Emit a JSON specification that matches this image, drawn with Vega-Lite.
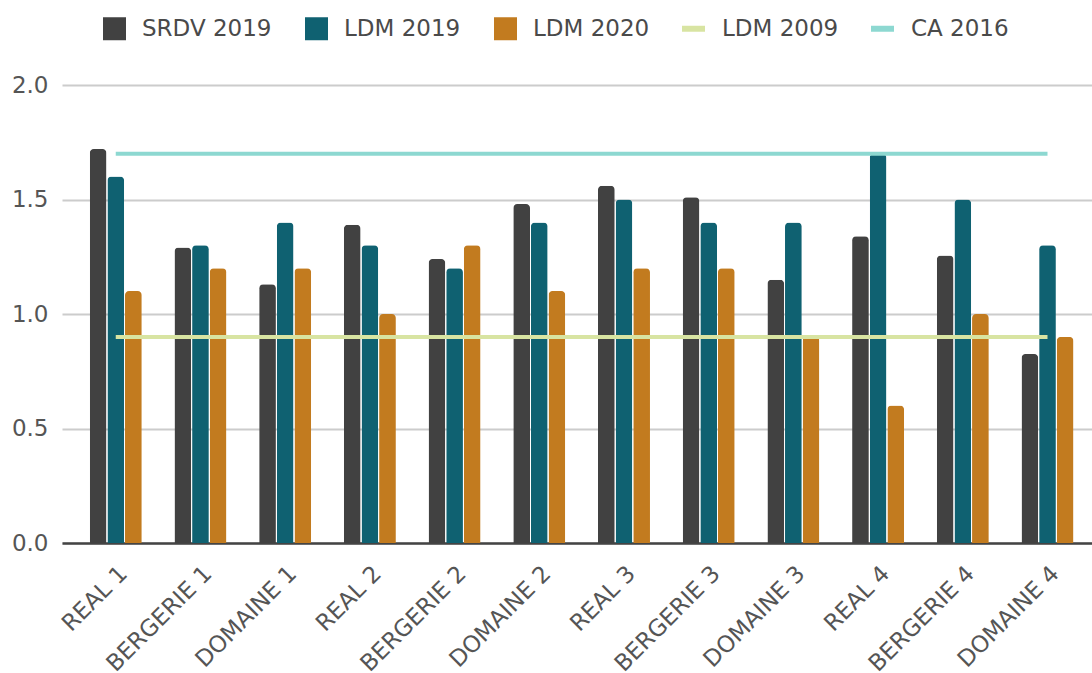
{
  "$schema": "https://vega.github.io/schema/vega-lite/v6.json",
  "autosize": "none",
  "width": 1030,
  "height": 458,
  "padding": {"left": 62, "top": 85, "right": 0, "bottom": 130},
  "background": "white",
  "config": {
    "font": "DejaVu Sans",
    "view": {"stroke": null}
  },
  "data": {
    "values": [
      {"cat": "REAL 1", "series": "SRDV 2019", "value": 1.72},
      {"cat": "REAL 1", "series": "LDM 2019", "value": 1.6},
      {"cat": "REAL 1", "series": "LDM 2020", "value": 1.1},
      {"cat": "BERGERIE 1", "series": "SRDV 2019", "value": 1.29},
      {"cat": "BERGERIE 1", "series": "LDM 2019", "value": 1.3},
      {"cat": "BERGERIE 1", "series": "LDM 2020", "value": 1.2},
      {"cat": "DOMAINE 1", "series": "SRDV 2019", "value": 1.13},
      {"cat": "DOMAINE 1", "series": "LDM 2019", "value": 1.4},
      {"cat": "DOMAINE 1", "series": "LDM 2020", "value": 1.2},
      {"cat": "REAL 2", "series": "SRDV 2019", "value": 1.39},
      {"cat": "REAL 2", "series": "LDM 2019", "value": 1.3},
      {"cat": "REAL 2", "series": "LDM 2020", "value": 1.0},
      {"cat": "BERGERIE 2", "series": "SRDV 2019", "value": 1.24},
      {"cat": "BERGERIE 2", "series": "LDM 2019", "value": 1.2},
      {"cat": "BERGERIE 2", "series": "LDM 2020", "value": 1.3},
      {"cat": "DOMAINE 2", "series": "SRDV 2019", "value": 1.48},
      {"cat": "DOMAINE 2", "series": "LDM 2019", "value": 1.4},
      {"cat": "DOMAINE 2", "series": "LDM 2020", "value": 1.1},
      {"cat": "REAL 3", "series": "SRDV 2019", "value": 1.56},
      {"cat": "REAL 3", "series": "LDM 2019", "value": 1.5},
      {"cat": "REAL 3", "series": "LDM 2020", "value": 1.2},
      {"cat": "BERGERIE 3", "series": "SRDV 2019", "value": 1.51},
      {"cat": "BERGERIE 3", "series": "LDM 2019", "value": 1.4},
      {"cat": "BERGERIE 3", "series": "LDM 2020", "value": 1.2},
      {"cat": "DOMAINE 3", "series": "SRDV 2019", "value": 1.15},
      {"cat": "DOMAINE 3", "series": "LDM 2019", "value": 1.4},
      {"cat": "DOMAINE 3", "series": "LDM 2020", "value": 0.9},
      {"cat": "REAL 4", "series": "SRDV 2019", "value": 1.34},
      {"cat": "REAL 4", "series": "LDM 2019", "value": 1.7},
      {"cat": "REAL 4", "series": "LDM 2020", "value": 0.6},
      {"cat": "BERGERIE 4", "series": "SRDV 2019", "value": 1.255},
      {"cat": "BERGERIE 4", "series": "LDM 2019", "value": 1.5},
      {"cat": "BERGERIE 4", "series": "LDM 2020", "value": 1.0},
      {"cat": "DOMAINE 4", "series": "SRDV 2019", "value": 0.825},
      {"cat": "DOMAINE 4", "series": "LDM 2019", "value": 1.3},
      {"cat": "DOMAINE 4", "series": "LDM 2020", "value": 0.9},
      {"cat": "REAL 1", "series": "LDM 2009", "value": 0.9},
      {"cat": "BERGERIE 1", "series": "LDM 2009", "value": 0.9},
      {"cat": "DOMAINE 1", "series": "LDM 2009", "value": 0.9},
      {"cat": "REAL 2", "series": "LDM 2009", "value": 0.9},
      {"cat": "BERGERIE 2", "series": "LDM 2009", "value": 0.9},
      {"cat": "DOMAINE 2", "series": "LDM 2009", "value": 0.9},
      {"cat": "REAL 3", "series": "LDM 2009", "value": 0.9},
      {"cat": "BERGERIE 3", "series": "LDM 2009", "value": 0.9},
      {"cat": "DOMAINE 3", "series": "LDM 2009", "value": 0.9},
      {"cat": "REAL 4", "series": "LDM 2009", "value": 0.9},
      {"cat": "BERGERIE 4", "series": "LDM 2009", "value": 0.9},
      {"cat": "DOMAINE 4", "series": "LDM 2009", "value": 0.9},
      {"cat": "REAL 1", "series": "CA 2016", "value": 1.7},
      {"cat": "BERGERIE 1", "series": "CA 2016", "value": 1.7},
      {"cat": "DOMAINE 1", "series": "CA 2016", "value": 1.7},
      {"cat": "REAL 2", "series": "CA 2016", "value": 1.7},
      {"cat": "BERGERIE 2", "series": "CA 2016", "value": 1.7},
      {"cat": "DOMAINE 2", "series": "CA 2016", "value": 1.7},
      {"cat": "REAL 3", "series": "CA 2016", "value": 1.7},
      {"cat": "BERGERIE 3", "series": "CA 2016", "value": 1.7},
      {"cat": "DOMAINE 3", "series": "CA 2016", "value": 1.7},
      {"cat": "REAL 4", "series": "CA 2016", "value": 1.7},
      {"cat": "BERGERIE 4", "series": "CA 2016", "value": 1.7},
      {"cat": "DOMAINE 4", "series": "CA 2016", "value": 1.7}
    ]
  },
  "encoding": {
    "x": {
      "field": "cat",
      "type": "nominal",
      "sort": null,
      "scale": {"paddingInner": 0.386, "paddingOuter": 0.273, "align": 0.6},
      "axis": {
        "title": null,
        "labelAngle": -45,
        "labelAlign": "right",
        "labelBaseline": "top",
        "labelFontSize": 23,
        "labelColor": "#555555",
        "labelPadding": 19,
        "labelDx": 15,
        "labelLimit": 300,
        "ticks": false,
        "domainColor": "#444444",
        "domainWidth": 2.5,
        "grid": false
      }
    },
    "y": {
      "field": "value",
      "type": "quantitative",
      "scale": {"domain": [0, 2], "nice": false},
      "axis": {
        "title": null,
        "values": [0, 0.5, 1, 1.5, 2],
        "format": ".1f",
        "labelFontSize": 23,
        "labelColor": "#555555",
        "labelPadding": 14,
        "ticks": false,
        "domain": false,
        "gridColor": "#cccccc",
        "gridWidth": 2
      }
    }
  },
  "layer": [
    {
      "transform": [{"filter": "datum.series === 'SRDV 2019' || datum.series === 'LDM 2019' || datum.series === 'LDM 2020'"}],
      "mark": {"type": "bar", "cornerRadiusTopLeft": 4, "cornerRadiusTopRight": 4},
      "encoding": {
        "xOffset": {
          "field": "series",
          "type": "nominal",
          "scale": {"domain": ["SRDV 2019", "LDM 2019", "LDM 2020"], "paddingInner": 0.05}
        },
        "fill": {
          "field": "series",
          "type": "nominal",
          "scale": {"domain": ["SRDV 2019", "LDM 2019", "LDM 2020"], "range": ["#414141", "#0f6171", "#c27b1f"]},
          "legend": {
            "title": null,
            "orient": "none",
            "direction": "horizontal",
            "legendX": 41,
            "legendY": -68,
            "symbolType": "square",
            "symbolSize": 529,
            "symbolStrokeWidth": 0,
            "labelFontSize": 23,
            "labelColor": "#4a4a4a",
            "labelOffset": 16,
            "columnPadding": 33
          }
        }
      }
    },
    {
      "transform": [{"filter": "datum.series === 'LDM 2009' || datum.series === 'CA 2016'"}],
      "mark": {"type": "line", "strokeWidth": 4},
      "encoding": {
        "stroke": {
          "field": "series",
          "type": "nominal",
          "scale": {"domain": ["LDM 2009", "CA 2016"], "range": ["#d8e4a2", "#8dd8d1"]},
          "legend": {
            "title": null,
            "orient": "none",
            "direction": "horizontal",
            "legendX": 617,
            "legendY": -71,
            "symbolType": "M-1,0H1",
            "symbolSize": 529,
            "symbolStrokeWidth": 6,
            "labelFontSize": 23,
            "labelColor": "#4a4a4a",
            "labelOffset": 14,
            "columnPadding": 20
          }
        }
      }
    }
  ]
}
